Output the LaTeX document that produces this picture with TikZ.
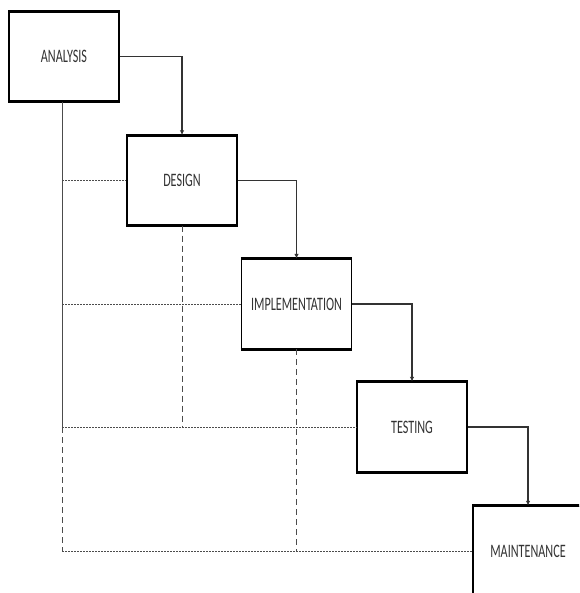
\documentclass[tikz,border=0pt]{standalone}
\usepackage{fontspec}
\usepackage{graphicx}
\setmainfont{Carlito}
\usetikzlibrary{arrows.meta}
\newcommand{\narrowlabel}[1]{\scalebox{0.64}[1]{#1}}
\begin{document}
\begin{tikzpicture}[x=1pt,y=-1pt,
  phase/.style={draw=black,line width=1.4pt,fill=white,minimum width=110pt,
    minimum height=89pt,inner sep=0pt,text=black!80,
    font=\fontsize{19}{22}\selectfont},
  edgebar/.style={line width=3pt,black},
  flow/.style={draw=black!80,line width=1.1pt,-{Latex[length=5pt,width=4.5pt]}},
  trace/.style={draw=black!70,line width=0.8pt},
  traceh/.style={trace,dash pattern=on 2pt off 1pt},
  tracev/.style={trace,dash pattern=on 6pt off 4pt}]
\useasboundingbox (0,0) rectangle (579,593);
\clip (0,0) rectangle (579,593);

% phase boxes
\node[phase] (A) at (64,56.5)  {\narrowlabel{ANALYSIS}};
\node[phase] (D) at (182,180.5) {\narrowlabel{DESIGN}};
\node[phase] (I) at (296.5,304) {\narrowlabel{IMPLEMENTATION}};
\node[phase] (T) at (412,427)  {\narrowlabel{TESTING}};
\node[phase] (M) at (528,551)  {\narrowlabel{MAINTENANCE}};

% heavy top and bottom edges
\foreach \b in {A,D,I,T,M}{
  \draw[edgebar] (\b.north west) -- (\b.north east);
  \draw[edgebar] (\b.south west) -- (\b.south east);
}

% feedback traces
\coordinate (a0) at ([xshift=-2pt]A.south);
\draw[trace] (a0) -- (a0 |- T.west);
\draw[tracev] (a0 |- T.west) -- (a0 |- M.west);
\draw[traceh] (a0 |- D.west) -- (D.west);
\draw[traceh] (a0 |- I.west) -- (I.west);
\draw[traceh] (a0 |- T.west) -- (T.west);
\draw[traceh] (a0 |- M.west) -- (M.west);
\draw[tracev] (D.south) -- (D.south |- T.west);
\draw[tracev] (I.south) -- (I.south |- M.west);

% waterfall flow
\draw[flow] (A.east) -| (D.north);
\draw[flow] (D.east) -| (I.north);
\draw[flow] (I.east) -| (T.north);
\draw[flow] (T.east) -| (M.north);
\end{tikzpicture}
\end{document}
